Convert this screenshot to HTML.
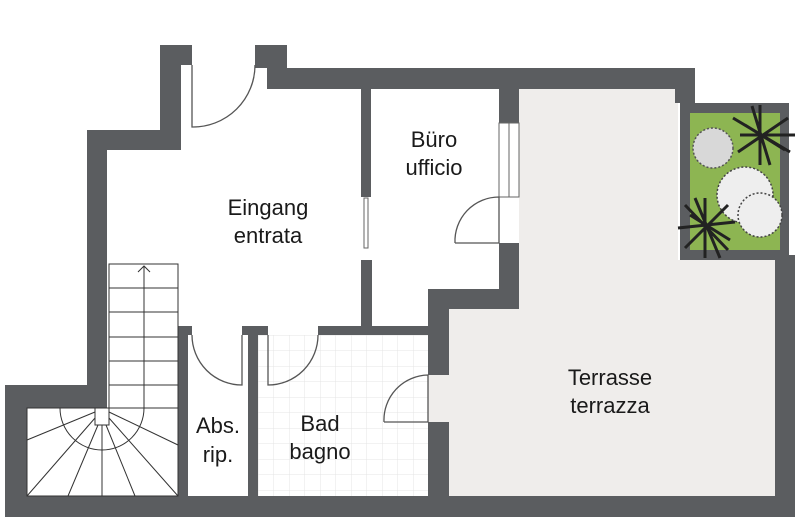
<!DOCTYPE html>
<html><head><meta charset="utf-8"><style>
html,body{margin:0;padding:0;background:#fff;width:800px;height:522px;overflow:hidden}
svg{display:block}
text{font-family:"Liberation Sans",sans-serif;font-size:22px;fill:#1a1a1a;text-anchor:middle}
</style></head><body>
<svg width="800" height="522" viewBox="0 0 800 522" xmlns="http://www.w3.org/2000/svg">
<defs>
<pattern id="tile" x="258" y="335" width="15.5" height="15.5" patternUnits="userSpaceOnUse">
<path d="M0 0H15.5M0 0V15.5" stroke="#e4e4e4" stroke-width="1" fill="none"/>
</pattern>
</defs>
<path d="M509 89H678V260H778V498H449V309H519V89Z" fill="#efedeb"/>
<rect x="428" y="375" width="21" height="47" fill="#efedeb"/>
<rect x="258" y="335" width="170" height="161" fill="url(#tile)"/>
<rect x="680" y="103" width="109" height="157" fill="#5b5d60"/>
<rect x="690" y="113" width="90" height="137" fill="#8db552"/>
<circle cx="713" cy="148" r="20" fill="#d8d8d8" stroke="#555" stroke-width="1.5" stroke-dasharray="2 2"/>
<circle cx="745" cy="195" r="28" fill="#eee" stroke="#444" stroke-width="1.5" stroke-dasharray="2 2"/>
<circle cx="760" cy="215" r="22" fill="#eee" stroke="#444" stroke-width="1.5" stroke-dasharray="2 2"/>
<g stroke="#222" stroke-width="3">
<path d="M760 105L760 165M733 118L790 152M738 152L788 118M740 135L795 135M752 106L770 165M745 125L785 150"/>
<path d="M705 198L705 258M678 228L735 222M685 205L728 250M685 248L728 205M695 198L720 258M690 215L730 240"/>
</g>
<g fill="#5b5d60">
<rect x="5" y="496" width="790" height="21"/>
<rect x="5" y="385" width="22" height="132"/>
<rect x="5" y="385" width="102" height="23"/>
<rect x="87" y="130" width="20" height="278"/>
<rect x="87" y="130" width="94" height="20"/>
<rect x="160" y="45" width="21" height="105"/>
<rect x="160" y="45" width="32" height="20"/>
<rect x="255" y="45" width="32" height="23"/>
<rect x="267" y="45" width="20" height="44"/>
<rect x="267" y="68" width="428" height="21"/>
<rect x="675" y="68" width="20" height="35"/>
<rect x="775" y="255" width="20" height="262"/>
<rect x="361" y="89" width="10" height="108"/>
<rect x="361" y="260" width="11" height="75"/>
<rect x="499" y="89" width="20" height="34"/>
<rect x="499" y="243" width="20" height="66"/>
<rect x="428" y="289" width="91" height="20"/>
<rect x="428" y="289" width="21" height="86"/>
<rect x="428" y="422" width="21" height="76"/>
<rect x="318" y="326" width="112" height="9"/>
<rect x="242" y="326" width="26" height="9"/>
<rect x="178" y="326" width="14" height="9"/>
<rect x="178" y="326" width="10" height="172"/>
<rect x="248" y="326" width="10" height="172"/>
</g>
<g fill="#fff" stroke="#666" stroke-width="1">
<rect x="499" y="123" width="20" height="74"/>
<line x1="509" y1="123" x2="509" y2="197"/>
<rect x="364" y="198" width="4" height="50"/>
</g>
<g fill="none" stroke="#555" stroke-width="1.3">
<path d="M192 65V127A62 62 0 0 0 255 65"/>
<path d="M455 243H499V197A44 44 0 0 0 455 243"/>
<path d="M192 335A50 50 0 0 0 242 385V335"/>
<path d="M318 335A50 50 0 0 1 268 385V335"/>
<path d="M384 422H428V375A45 45 0 0 0 384 422"/>
</g>
<g fill="none" stroke="#333" stroke-width="1">
<rect x="109" y="264" width="69" height="144"/>
<path d="M109 288H178M109 312H178M109 337H178M109 361H178M109 385H178"/>
<path d="M144 266V408M138 272L144 266L150 272"/>
<rect x="27" y="408" width="151" height="88"/>
<rect x="95" y="408" width="14" height="17"/>
<path d="M60 408A42 42 0 0 0 144 408"/>
<path d="M95 412L27 440M95 418L27 496M98 425L68 496M102 425V496M106 425L135 496M109 418L178 496M109 412L178 445"/>
</g>
<text x="268" y="215">Eingang</text>
<text x="268" y="243">entrata</text>
<text x="434" y="147">Büro</text>
<text x="434" y="175">ufficio</text>
<text x="610" y="385">Terrasse</text>
<text x="610" y="413">terrazza</text>
<text x="218" y="433">Abs.</text>
<text x="218" y="462">rip.</text>
<text x="320" y="431">Bad</text>
<text x="320" y="459">bagno</text>
</svg>
</body></html>
